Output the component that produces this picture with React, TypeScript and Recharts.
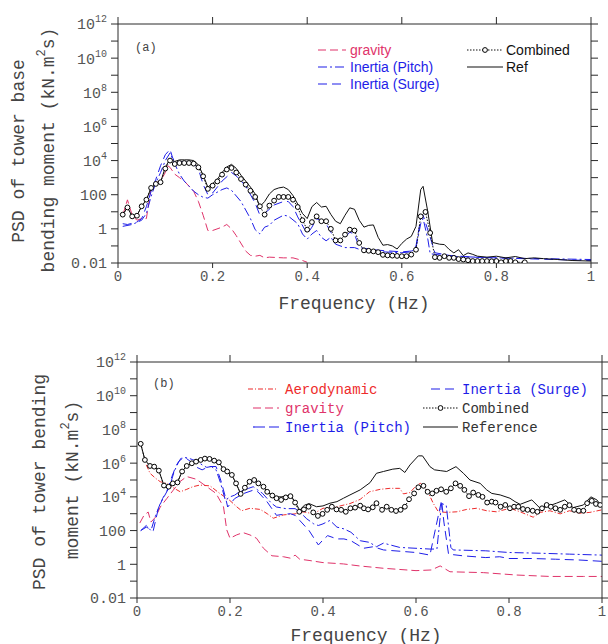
import React from 'react';
import { LineChart, Line, XAxis, YAxis } from 'recharts';

const MONO = '"Liberation Mono", "Courier New", monospace';
const SANS = '"Liberation Sans", Arial, sans-serif';

const freqTicks = [0, 0.2, 0.4, 0.6, 0.8, 1];
const psdTicks = [1e-2, 1e-1, 1, 10, 100, 1e3, 1e4, 1e5, 1e6, 1e7, 1e8, 1e9, 1e10, 1e11, 1e12];

// ---------- Panel (a): tower base bending moment ----------
const aCombined: [number, number][] = [
  [0.01, 6.8], [0.02, 18], [0.03, 5.4], [0.04, 5.9], [0.05, 21], [0.06, 51], [0.07, 250], [0.08, 430], [0.09, 540],
  [0.10, 3400], [0.11, 10000], [0.12, 6300], [0.13, 7200], [0.14, 7200], [0.15, 7200], [0.16, 6600], [0.17, 4000],
  [0.18, 1200], [0.19, 220], [0.20, 340], [0.21, 600], [0.22, 1500], [0.23, 3000], [0.24, 3700], [0.25, 2000],
  [0.26, 830], [0.27, 390], [0.28, 170], [0.29, 74], [0.30, 21], [0.31, 6.8], [0.32, 23], [0.33, 45], [0.34, 74],
  [0.35, 74], [0.36, 74], [0.37, 51], [0.38, 19], [0.39, 3.2], [0.40, 0.9], [0.41, 2.5], [0.42, 5.4], [0.43, 2.8],
  [0.44, 2.8], [0.45, 1.0], [0.46, 0.21], [0.47, 0.21], [0.48, 0.46], [0.49, 0.9], [0.50, 0.8], [0.51, 0.15],
  [0.52, 0.055], [0.53, 0.052], [0.54, 0.048], [0.55, 0.043], [0.56, 0.03], [0.57, 0.028], [0.58, 0.027],
  [0.59, 0.026], [0.60, 0.025], [0.61, 0.025], [0.62, 0.031], [0.63, 0.06], [0.64, 5.4], [0.65, 9.8], [0.66, 0.58],
  [0.67, 0.022], [0.68, 0.02], [0.69, 0.025], [0.70, 0.02], [0.71, 0.02], [0.72, 0.017], [0.73, 0.016],
  [0.74, 0.0145], [0.75, 0.013], [0.76, 0.013], [0.77, 0.013], [0.78, 0.013], [0.79, 0.0126], [0.80, 0.013],
  [0.81, 0.011], [0.82, 0.013], [0.83, 0.013], [0.84, 0.011], [0.86, 0.011],
];
const aRef: [number, number][] = [
  [0.01, 6.8], [0.02, 18], [0.03, 5.4], [0.04, 5.9], [0.05, 21], [0.06, 51], [0.07, 250], [0.08, 430], [0.09, 540],
  [0.10, 4000], [0.11, 12600], [0.12, 8900], [0.13, 11000], [0.14, 11000], [0.15, 11000], [0.16, 10000],
  [0.17, 5600], [0.18, 1400], [0.19, 280], [0.20, 450], [0.21, 800], [0.22, 2000], [0.23, 4200], [0.24, 6000],
  [0.25, 3500], [0.26, 1400], [0.27, 630], [0.28, 280], [0.29, 110], [0.30, 20], [0.31, 40], [0.32, 110],
  [0.33, 200], [0.34, 250], [0.35, 280], [0.36, 200], [0.37, 89], [0.38, 28], [0.39, 8], [0.40, 4], [0.41, 20],
  [0.42, 35], [0.43, 19], [0.44, 21], [0.45, 7], [0.46, 2.8], [0.47, 2], [0.48, 6.3], [0.49, 17], [0.50, 14],
  [0.51, 3.2], [0.52, 1.26], [0.53, 1.6], [0.54, 1.7], [0.55, 0.32], [0.56, 0.11], [0.57, 0.12], [0.58, 0.1],
  [0.59, 0.066], [0.60, 0.14], [0.61, 0.25], [0.62, 0.36], [0.63, 1.4], [0.64, 200], [0.645, 310], [0.655, 10],
  [0.665, 0.16], [0.68, 0.126], [0.69, 0.12], [0.70, 0.063], [0.71, 0.039], [0.72, 0.06], [0.73, 0.027],
  [0.74, 0.039], [0.75, 0.032], [0.76, 0.025], [0.78, 0.022], [0.80, 0.025], [0.82, 0.02], [0.84, 0.024],
  [0.86, 0.018], [0.88, 0.02], [0.90, 0.018], [0.93, 0.016], [0.96, 0.014], [1.0, 0.013],
];
const aSurge: [number, number][] = [
  [0.01, 2.0], [0.02, 1.8], [0.04, 2.5], [0.05, 4.0], [0.06, 20], [0.07, 160], [0.08, 800], [0.09, 5000],
  [0.10, 22000], [0.11, 45000], [0.115, 16000], [0.12, 8000], [0.14, 9000], [0.16, 7100], [0.17, 3200],
  [0.18, 400], [0.19, 100], [0.20, 126], [0.22, 630], [0.24, 2000], [0.25, 1260], [0.27, 320], [0.29, 32],
  [0.30, 6.3], [0.31, 8], [0.33, 25], [0.35, 40], [0.36, 40], [0.37, 20], [0.38, 5], [0.40, 0.5], [0.41, 1.26],
  [0.42, 4], [0.44, 2], [0.45, 0.63], [0.46, 0.2], [0.48, 0.32], [0.49, 0.63], [0.50, 0.5], [0.51, 0.08],
  [0.55, 0.056], [0.60, 0.045], [0.62, 0.05], [0.63, 0.1], [0.64, 4], [0.645, 6.3], [0.66, 0.32], [0.67, 0.04],
  [0.70, 0.028], [0.75, 0.022], [0.80, 0.02], [0.90, 0.0166], [1.0, 0.014],
];
const aPitch: [number, number][] = [
  [0.01, 1.4], [0.03, 1.8], [0.05, 3.2], [0.06, 8], [0.07, 80], [0.08, 500], [0.09, 2000], [0.10, 10000],
  [0.11, 28000], [0.12, 6300], [0.13, 1600], [0.14, 630], [0.15, 320], [0.16, 160], [0.17, 100], [0.18, 71],
  [0.19, 63], [0.20, 100], [0.22, 200], [0.23, 250], [0.24, 180], [0.26, 40], [0.28, 4], [0.29, 0.9], [0.30, 0.5],
  [0.31, 1.26], [0.32, 1.6], [0.33, 3.2], [0.35, 6.3], [0.36, 5.6], [0.38, 2], [0.39, 0.5], [0.40, 0.25],
  [0.41, 0.5], [0.42, 0.8], [0.43, 0.32], [0.44, 0.2], [0.45, 0.32], [0.46, 0.126], [0.48, 0.08], [0.50, 0.08],
  [0.52, 0.05], [0.56, 0.045], [0.60, 0.04], [0.62, 0.045], [0.63, 0.08], [0.64, 2], [0.645, 4], [0.655, 0.25],
  [0.66, 0.035], [0.70, 0.025], [0.80, 0.02], [0.90, 0.018], [1.0, 0.016],
];
const aGravity: [number, number][] = [
  [0.01, 6.3], [0.02, 50], [0.03, 6.3], [0.04, 3.2], [0.05, 4], [0.06, 4], [0.07, 250], [0.08, 500], [0.09, 630],
  [0.10, 2000], [0.105, 5000], [0.11, 4000], [0.12, 1600], [0.13, 1000], [0.14, 630], [0.15, 320], [0.16, 160],
  [0.17, 40], [0.18, 6.3], [0.19, 0.8], [0.20, 0.8], [0.22, 1.26], [0.23, 1.8], [0.24, 1.0], [0.25, 0.4],
  [0.27, 0.05], [0.28, 0.028], [0.29, 0.025], [0.30, 0.028], [0.31, 0.02], [0.32, 0.022], [0.35, 0.02],
  [0.37, 0.02], [0.39, 0.014], [0.40, 0.011],
];

// ---------- Panel (b): tower bending moment ----------
const bCombined: [number, number][] = [
  [0.008, 1.4e7], [0.017, 1.55e6], [0.028, 6.8e5], [0.037, 6.2e5], [0.047, 3.6e5], [0.058, 4.7e4], [0.068, 4.0e4],
  [0.077, 6.3e4], [0.087, 7.2e4], [0.097, 3.2e5], [0.107, 6.8e5], [0.118, 9.8e5], [0.127, 1.23e6], [0.137, 1.55e6],
  [0.146, 1.86e6], [0.156, 1.78e6], [0.166, 1.41e6], [0.176, 1.12e6], [0.186, 4.4e5], [0.194, 3.2e5],
  [0.204, 2.0e5], [0.213, 6.3e4], [0.223, 1.5e4], [0.232, 3.5e4], [0.242, 7.9e4], [0.252, 1.0e5], [0.261, 6.3e4],
  [0.272, 4.0e4], [0.28, 2.0e4], [0.291, 1.2e4], [0.30, 8300], [0.31, 6600], [0.32, 9300], [0.33, 1.1e4],
  [0.34, 4600], [0.349, 1300], [0.359, 1800], [0.369, 2600], [0.379, 1200], [0.389, 740], [0.399, 980],
  [0.409, 1700], [0.419, 2600], [0.429, 1800], [0.439, 1700], [0.449, 1300], [0.459, 2100], [0.469, 2300],
  [0.48, 3000], [0.488, 2100], [0.497, 1800], [0.507, 2400], [0.515, 4200], [0.527, 1700], [0.537, 2600],
  [0.547, 1700], [0.557, 1450], [0.567, 1700], [0.576, 2600], [0.585, 7200], [0.596, 1.6e4], [0.605, 3.7e4],
  [0.616, 4.5e4], [0.625, 2.0e4], [0.635, 1.6e4], [0.644, 2.3e4], [0.654, 2.8e4], [0.665, 2.0e4], [0.675, 3.2e4],
  [0.685, 6.3e4], [0.695, 4.5e4], [0.704, 2.6e4], [0.714, 1.1e4], [0.723, 1.8e4], [0.734, 1.3e4], [0.743, 1.0e4],
  [0.753, 4600], [0.763, 5200], [0.771, 4600], [0.782, 2600], [0.792, 3300], [0.802, 2100], [0.811, 2600],
  [0.82, 2600], [0.83, 1900], [0.84, 1700], [0.851, 1500], [0.861, 1300], [0.871, 2100], [0.881, 3300],
  [0.89, 2600], [0.90, 2100], [0.91, 1700], [0.92, 2600], [0.93, 3200], [0.94, 1700], [0.95, 1500], [0.96, 1500],
  [0.968, 4200], [0.978, 5800], [0.987, 3800], [0.996, 3300],
];
const bReference: [number, number][] = [
  [0.008, 1.4e7], [0.017, 1.55e6], [0.028, 6.8e5], [0.037, 6.2e5], [0.047, 3.6e5], [0.058, 4.7e4], [0.068, 4.0e4],
  [0.077, 6.3e4], [0.087, 7.2e4], [0.097, 3.2e5], [0.107, 6.8e5], [0.118, 9.8e5], [0.127, 1.23e6], [0.137, 1.55e6],
  [0.146, 1.86e6], [0.156, 1.78e6], [0.166, 1.41e6], [0.176, 1.12e6], [0.186, 4.4e5], [0.194, 3.2e5],
  [0.204, 2.0e5], [0.213, 6.3e4], [0.223, 1.5e4], [0.232, 3.5e4], [0.242, 7.9e4], [0.252, 1.0e5], [0.261, 6.3e4],
  [0.272, 4.0e4], [0.28, 2.0e4], [0.291, 1.3e4], [0.30, 1.0e4], [0.31, 1.0e4], [0.32, 1.1e4], [0.33, 1.26e4],
  [0.34, 5000], [0.35, 1600], [0.36, 3200], [0.37, 4000], [0.386, 2600], [0.40, 2900], [0.415, 4200],
  [0.43, 5200], [0.444, 8300], [0.458, 1.3e4], [0.48, 2.6e4], [0.501, 6.9e4], [0.515, 2.5e5], [0.53, 3.2e5],
  [0.55, 4.4e5], [0.565, 4.9e5], [0.576, 2.8e5], [0.587, 7.8e5], [0.605, 2.7e6], [0.614, 2.7e6], [0.63, 6.2e5],
  [0.64, 4.0e5], [0.652, 3.6e5], [0.666, 3.2e5], [0.686, 6.2e5], [0.702, 2.5e5], [0.716, 1.0e5], [0.738, 6.3e4],
  [0.752, 2.6e4], [0.763, 1.6e4], [0.781, 1.3e4], [0.802, 8300], [0.813, 5200], [0.824, 3600], [0.849, 6600],
  [0.867, 2100], [0.881, 2600], [0.902, 4200], [0.92, 6600], [0.938, 2300], [0.96, 3300], [0.976, 1.0e4],
  [0.989, 6600], [1.0, 2600],
];
const bAero: [number, number][] = [
  [0.02, 7.9e5], [0.028, 2.5e5], [0.04, 1.26e5], [0.05, 7.9e4], [0.064, 6.3e4], [0.08, 3.2e4], [0.093, 2.0e4],
  [0.107, 2.8e4], [0.12, 4.0e4], [0.135, 5.0e4], [0.157, 4.5e4], [0.178, 1.6e4], [0.2, 6000], [0.215, 2500],
  [0.225, 1500], [0.243, 2100], [0.265, 1800], [0.28, 1000], [0.293, 540], [0.315, 850], [0.34, 980],
  [0.358, 1300], [0.379, 980], [0.4, 2100], [0.43, 2600], [0.458, 4000], [0.48, 7100], [0.5, 2.0e4],
  [0.523, 2.8e4], [0.544, 3.2e4], [0.565, 3.2e4], [0.573, 1.5e4], [0.587, 1.8e4], [0.602, 5.1e4], [0.61, 6.3e4],
  [0.623, 2.8e4], [0.637, 4200], [0.648, 1300], [0.666, 1200], [0.688, 1300], [0.709, 1800], [0.73, 2100],
  [0.752, 1500], [0.773, 1300], [0.802, 2100], [0.824, 1300], [0.852, 620], [0.867, 1200], [0.888, 1500],
  [0.91, 980], [0.93, 1500], [0.953, 1070], [0.974, 1200], [1.0, 1700],
];
const bGravity: [number, number][] = [
  [0.006, 280], [0.015, 800], [0.024, 1260], [0.03, 320], [0.04, 630], [0.05, 2500], [0.064, 7900], [0.078, 2.5e4],
  [0.092, 7.9e4], [0.107, 1.6e5], [0.128, 1.1e5], [0.15, 4.0e4], [0.17, 1.6e4], [0.186, 2600], [0.193, 110],
  [0.2, 35], [0.214, 55], [0.228, 76], [0.243, 55], [0.257, 35], [0.272, 8.9], [0.29, 3.2], [0.315, 2.8],
  [0.33, 2.3], [0.34, 3.5], [0.35, 2.0], [0.372, 1.66], [0.4, 1.26], [0.444, 1.05], [0.478, 0.8], [0.53, 0.58],
  [0.6, 0.42], [0.633, 0.46], [0.652, 0.8], [0.673, 0.36], [0.745, 0.32], [0.817, 0.23], [0.888, 0.19],
  [0.96, 0.19], [1.0, 0.19],
];
const bPitch: [number, number][] = [
  [0.008, 100], [0.02, 200], [0.03, 100], [0.04, 800], [0.05, 4000], [0.06, 1.26e4], [0.07, 4.0e4], [0.08, 3.2e5],
  [0.09, 1.26e6], [0.10, 2.2e6], [0.11, 2.0e6], [0.12, 1.6e6], [0.13, 1.26e6], [0.14, 7.9e5], [0.15, 5.6e5],
  [0.16, 6.3e5], [0.17, 4.0e5], [0.18, 6.3e4], [0.19, 6300], [0.20, 1.0e4], [0.21, 1.26e4], [0.22, 2.0e4],
  [0.23, 2.5e4], [0.24, 3.2e4], [0.25, 4.0e4], [0.26, 2.5e4], [0.27, 1.6e4], [0.28, 7900], [0.29, 4000],
  [0.30, 2500], [0.32, 2000], [0.34, 2000], [0.35, 1260], [0.365, 500], [0.38, 250], [0.39, 200], [0.40, 250],
  [0.415, 400], [0.43, 160], [0.445, 126], [0.46, 80], [0.48, 25], [0.50, 20], [0.515, 11], [0.53, 18],
  [0.565, 10], [0.6, 8.9], [0.63, 8], [0.645, 8], [0.655, 4000], [0.665, 3200], [0.675, 10], [0.68, 7.1],
  [0.75, 6.3], [0.80, 5], [0.87, 4.5], [0.93, 4], [1.0, 3.5],
];
const bSurge: [number, number][] = [
  [0.008, 100], [0.02, 160], [0.035, 100], [0.045, 1600], [0.055, 7900], [0.065, 2.5e4], [0.075, 1.6e5],
  [0.085, 7.9e5], [0.095, 2.0e6], [0.105, 2.0e6], [0.115, 1.26e6], [0.125, 6.3e5], [0.14, 4.0e5], [0.155, 6.3e5],
  [0.17, 6.3e5], [0.18, 1.0e5], [0.19, 1.0e4], [0.195, 2500], [0.21, 7900], [0.23, 1.6e4], [0.25, 2.5e4],
  [0.26, 2.0e4], [0.28, 5000], [0.29, 2000], [0.30, 800], [0.31, 890], [0.33, 1000], [0.34, 800], [0.35, 400],
  [0.37, 100], [0.39, 14], [0.40, 28], [0.41, 50], [0.43, 32], [0.445, 32], [0.46, 25], [0.487, 8.9],
  [0.508, 11], [0.53, 7.1], [0.6, 5], [0.63, 3.5], [0.645, 320], [0.655, 6300], [0.66, 320], [0.67, 4],
  [0.70, 3.2], [0.75, 2.5], [0.78, 2.8], [0.80, 2.2], [0.85, 2.2], [0.90, 2.0], [0.95, 1.8], [1.0, 1.5],
];

// ---------- styles ----------
const AX = '#2a2a2a';
const LBL = '#555';
const RED = '#ee2b2b';
const PINK = '#e0336a';
const BLUE = '#1e1ee8';
const BLACK = '#111';

const DASH_GRAV = '8 4';
const DASH_PITCH = '9 3 2 3';
const DASH_SURGE = '9 5';
const DASH_AERO = '5 2 1 2';
const DASH_COMB = '1.5 1.5';

type S = { name: string; data: [number, number][]; color: string; dash?: string; dots?: boolean };

const topSeries: S[] = [
  { name: 'gravity', data: aGravity, color: PINK, dash: DASH_GRAV },
  { name: 'Inertia (Pitch)', data: aPitch, color: BLUE, dash: DASH_PITCH },
  { name: 'Inertia (Surge)', data: aSurge, color: BLUE, dash: DASH_SURGE },
  { name: 'Ref', data: aRef, color: BLACK },
  { name: 'Combined', data: aCombined, color: BLACK, dash: DASH_COMB, dots: true },
];
const bottomSeries: S[] = [
  { name: 'Aerodynamic', data: bAero, color: RED, dash: DASH_AERO },
  { name: 'gravity', data: bGravity, color: PINK, dash: DASH_GRAV },
  { name: 'Inertia (Pitch)', data: bPitch, color: BLUE, dash: DASH_PITCH },
  { name: 'Inertia (Surge)', data: bSurge, color: BLUE, dash: DASH_SURGE },
  { name: 'Reference', data: bReference, color: BLACK },
  { name: 'Combined', data: bCombined, color: BLACK, dash: DASH_COMB, dots: true },
];

const Empty = () => <g />;

function LogTick(props: any) {
  const { x, y, payload } = props;
  const v = payload.value as number;
  const e = Math.round(Math.log10(v));
  if (e % 2 !== 0) return <g />;
  if (e <= 2) {
    const s = e === -2 ? '0.01' : e === 0 ? '1' : '100';
    return (
      <text x={x} y={y} dy="0.36em" textAnchor="end" fontFamily={MONO} fontSize={15} fill={LBL}>{s}</text>
    );
  }
  return (
    <text x={x} y={y} dy="0.36em" textAnchor="end" fontFamily={MONO} fontSize={15} fill={LBL}>
      <tspan>10</tspan>
      <tspan dy={-7} fontSize={10}>{String(e)}</tspan>
    </text>
  );
}

const fmtF = (v: number) => String(v);

function Panel(props: { height: number; plotTop: number; plotBottom: number; plotLeft: number; plotRight: number; series: S[] }) {
  const { height, plotTop, plotBottom, plotLeft, plotRight, series } = props;
  const W = 608;
  return (
    <LineChart width={W} height={height} margin={{ top: 0, right: 0, bottom: 0, left: 0 }}>
      <XAxis xAxisId="b" type="number" dataKey="f" domain={[0, 1]} ticks={freqTicks} allowDataOverflow interval={0}
        height={height - plotBottom} tickSize={5} tickMargin={3} axisLine={{ stroke: AX }} tickLine={{ stroke: AX }}
        tick={{ fill: LBL, fontSize: 14, fontFamily: MONO }} tickFormatter={fmtF} />
      <XAxis xAxisId="t" orientation="top" type="number" dataKey="f" domain={[0, 1]} ticks={freqTicks} allowDataOverflow
        interval={0} height={plotTop} tickSize={7} axisLine={{ stroke: AX }} tickLine={{ stroke: AX }} tick={Empty} />
      <YAxis yAxisId="l" type="number" scale="log" domain={[0.01, 1e12]} ticks={psdTicks} allowDataOverflow interval={0}
        width={plotLeft} tickSize={7} tickMargin={4} axisLine={{ stroke: AX }} tickLine={{ stroke: AX }} tick={LogTick} />
      <YAxis yAxisId="r" orientation="right" type="number" scale="log" domain={[0.01, 1e12]} ticks={psdTicks}
        allowDataOverflow interval={0} width={W - plotRight} tickSize={7} axisLine={{ stroke: AX }} tickLine={{ stroke: AX }}
        tick={Empty} />
      {series.map((s) => (
        <Line key={s.name} xAxisId="b" yAxisId="l" type="linear" name={s.name}
          data={s.data.map(([f, v]) => ({ f, v }))} dataKey="v" stroke={s.color} strokeWidth={1}
          strokeDasharray={s.dash} isAnimationActive={false} activeDot={false}
          dot={s.dots ? { r: 2.4, stroke: '#000', strokeWidth: 1, fill: '#fff', strokeDasharray: '' } : false} />
      ))}
    </LineChart>
  );
}

function Sample({ x1, x2, y, color, dash, marker }: any) {
  return (
    <g>
      <line x1={x1} x2={x2} y1={y} y2={y} stroke={color} strokeWidth={1.2} strokeDasharray={dash} />
      {marker ? <circle cx={(x1 + x2) / 2} cy={y} r={2.4} fill="#fff" stroke="#000" strokeWidth={1} /> : null}
    </g>
  );
}

function Overlay() {
  return (
    <svg width={608} height={644} style={{ position: 'absolute', left: 0, top: 0, pointerEvents: 'none' }}>
      {/* Panel (a) */}
      <text x={135} y={51} fontFamily={MONO} fontSize={12} fill="#444">(a)</text>
      <Sample x1={318} x2={346} y={50} color={PINK} dash={DASH_GRAV} />
      <text x={350} y={50} dy="0.35em" fontFamily={SANS} fontSize={14} fill={PINK}>gravity</text>
      <Sample x1={318} x2={346} y={67} color={BLUE} dash={DASH_PITCH} />
      <text x={350} y={67} dy="0.35em" fontFamily={SANS} fontSize={14} fill={BLUE}>Inertia (Pitch)</text>
      <Sample x1={318} x2={346} y={84} color={BLUE} dash={DASH_SURGE} />
      <text x={350} y={84} dy="0.35em" fontFamily={SANS} fontSize={14} fill={BLUE}>Inertia (Surge)</text>
      <Sample x1={467} x2={503} y={50} color={BLACK} dash={DASH_COMB} marker />
      <text x={506} y={50} dy="0.35em" fontFamily={SANS} fontSize={14} fill="#111">Combined</text>
      <Sample x1={467} x2={503} y={67} color={BLACK} />
      <text x={506} y={67} dy="0.35em" fontFamily={SANS} fontSize={14} fill="#111">Ref</text>

      <text transform="translate(18,151) rotate(-90)" textAnchor="middle" dy="0.35em" fontFamily={MONO} fontSize={18} fill="#444">PSD of tower base</text>
      <text transform="translate(48,150) rotate(-90)" textAnchor="middle" dy="0.35em" fontFamily={MONO} fontSize={18} fill="#444">
        <tspan>bending moment (kN.m</tspan>
        <tspan dy={-9} fontSize={12}>2</tspan>
        <tspan dy={9}>s)</tspan>
      </text>
      <text x={354} y={303} dy="0.35em" textAnchor="middle" fontFamily={MONO} fontSize={18} fill="#444">Frequency (Hz)</text>

      {/* Panel (b) */}
      <text x={153} y={387} fontFamily={MONO} fontSize={12} fill="#444">(b)</text>
      <Sample x1={248} x2={278} y={389} color={RED} dash={DASH_AERO} />
      <text x={285} y={389} dy="0.35em" fontFamily={MONO} fontSize={14} fill={RED}>Aerodynamic</text>
      <Sample x1={253} x2={279} y={408} color={PINK} dash={DASH_GRAV} />
      <text x={285} y={408} dy="0.35em" fontFamily={MONO} fontSize={14} fill={PINK}>gravity</text>
      <Sample x1={253} x2={279} y={427} color={BLUE} dash="12 4" />
      <text x={285} y={427} dy="0.35em" fontFamily={MONO} fontSize={14} fill={BLUE}>Inertia (Pitch)</text>
      <Sample x1={431} x2={457} y={389} color={BLUE} dash={DASH_SURGE} />
      <text x={462} y={389} dy="0.35em" fontFamily={MONO} fontSize={14} fill={BLUE}>Inertia (Surge)</text>
      <Sample x1={423} x2={458} y={408} color={BLACK} dash={DASH_COMB} marker />
      <text x={462} y={408} dy="0.35em" fontFamily={MONO} fontSize={14} fill="#333">Combined</text>
      <Sample x1={423} x2={458} y={427} color={BLACK} />
      <text x={462} y={427} dy="0.35em" fontFamily={MONO} fontSize={14} fill="#333">Reference</text>

      <text transform="translate(39,482) rotate(-90)" textAnchor="middle" dy="0.35em" fontFamily={MONO} fontSize={18} fill="#444">PSD of tower bending</text>
      <text transform="translate(72,480) rotate(-90)" textAnchor="middle" dy="0.35em" fontFamily={MONO} fontSize={18} fill="#444">
        <tspan>moment (kN.m</tspan>
        <tspan dy={-9} fontSize={12}>2</tspan>
        <tspan dy={9}>s)</tspan>
      </text>
      <text x={366} y={635} dy="0.35em" textAnchor="middle" fontFamily={MONO} fontSize={18} fill="#444">Frequency (Hz)</text>
    </svg>
  );
}

export default function App() {
  return (
    <div style={{ position: 'absolute', left: 0, top: 0, width: 608, height: 644, background: '#fff', overflow: 'hidden' }}>
      <div style={{ position: 'absolute', left: 0, top: 0 }}>
        <Panel height={320} plotTop={24} plotBottom={263} plotLeft={118} plotRight={591} series={topSeries} />
      </div>
      <div style={{ position: 'absolute', left: 0, top: 330 }}>
        <Panel height={314} plotTop={32} plotBottom={268} plotLeft={137} plotRight={602} series={bottomSeries} />
      </div>
      <Overlay />
    </div>
  );
}
